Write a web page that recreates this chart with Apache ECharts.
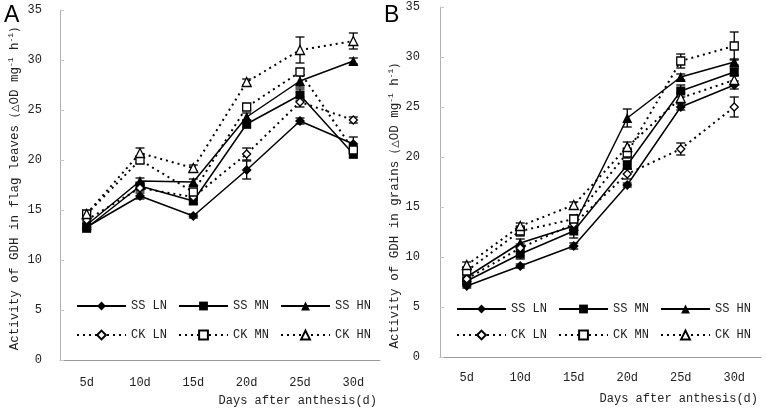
<!DOCTYPE html>
<html>
<head>
<meta charset="utf-8">
<script src="https://cdn.jsdelivr.net/npm/echarts/dist/echarts.min.js"></script>
<style>
html,body{margin:0;padding:0;background:#fff;}
#main{width:766px;height:412px;}
</style>
</head>
<body>
<div id="main"></div>
<script>
// ---------- DATA ----------
const categories = ['5d', '10d', '15d', '20d', '25d', '30d'];
const seriesNames = ['SS LN', 'SS MN', 'SS HN', 'CK LN', 'CK MN', 'CK HN'];
const yMin = 0, yMax = 35, yStep = 5;

// Panel A: flag leaves
const leafSSLN = [13.3, 16.4, 14.4, 19.0, 23.9, 21.6];
const leafSSMN = [13.2, 17.4, 15.9, 23.6, 26.5, 20.6];
const leafSSHN = [13.5, 17.9, 17.8, 24.3, 27.9, 29.9];
const leafCKLN = [14.0, 17.2, 16.3, 20.6, 25.8, 24.0];
const leafCKMN = [14.6, 20.0, 16.8, 25.3, 28.8, 21.0];
const leafCKHN = [14.6, 20.7, 19.2, 27.8, 31.0, 31.9];
const leafErrSSLN = [0.3, 0.3, 0.2, 0.9, 0.3, 0.7];
const leafErrSSMN = [0.4, 0.3, 0.3, 0.4, 0.6, 0.4];
const leafErrSSHN = [0.3, 0.3, 0.3, 0.4, 0.6, 0.3];
const leafErrCKLN = [0.3, 0.3, 0.3, 0.6, 0.5, 0.3];
const leafErrCKMN = [0.3, 0.3, 0.3, 0.3, 0.3, 0.3];
const leafErrCKHN = [0.3, 0.5, 0.3, 0.3, 1.3, 0.8];

// Panel B: grains
const grainSSLN = [7.1, 9.1, 11.1, 17.2, 25.0, 27.2];
const grainSSMN = [7.6, 10.3, 12.6, 19.2, 26.6, 28.5];
const grainSSHN = [8.0, 11.4, 13.1, 23.9, 28.0, 29.5];
const grainCKLN = [7.8, 10.9, 13.3, 18.3, 20.8, 25.0];
const grainCKMN = [8.6, 12.6, 13.8, 20.4, 29.6, 31.1];
const grainCKHN = [9.2, 13.1, 15.2, 21.0, 25.9, 27.7];
const grainErrSSLN = [0.2, 0.2, 0.3, 0.2, 0.3, 0.4];
const grainErrSSMN = [0.3, 0.5, 0.7, 0.4, 0.6, 0.4];
const grainErrSSHN = [0.3, 0.4, 0.4, 0.9, 0.3, 0.3];
const grainErrCKLN = [0.3, 0.4, 0.3, 0.5, 0.6, 1.0];
const grainErrCKMN = [0.3, 0.5, 0.4, 0.5, 0.7, 1.4];
const grainErrCKHN = [0.3, 0.3, 0.3, 0.5, 0.5, 0.5];

const leafValues = [leafSSLN, leafSSMN, leafSSHN, leafCKLN, leafCKMN, leafCKHN];
const leafErrors = [leafErrSSLN, leafErrSSMN, leafErrSSHN, leafErrCKLN, leafErrCKMN, leafErrCKHN];
const grainValues = [grainSSLN, grainSSMN, grainSSHN, grainCKLN, grainCKMN, grainCKHN];
const grainErrors = [grainErrSSLN, grainErrSSMN, grainErrSSHN, grainErrCKLN, grainErrCKMN, grainErrCKHN];

// ---------- STYLE ----------
const MONO = '"Liberation Mono", "DejaVu Sans Mono", monospace';
const styles = [
  { symbol: 'diamond', size: 10, hollow: false },
  { symbol: 'rect', size: 9, hollow: false },
  { symbol: 'triangle', size: 10, hollow: false },
  { symbol: 'diamond', size: 8, hollow: true },
  { symbol: 'rect', size: 8, hollow: true },
  { symbol: 'triangle', size: 9, hollow: true }
];

function makeAxes(idx) {
  return {
    x: {
      type: 'category', gridIndex: idx, data: categories, boundaryGap: true,
      axisLine: { lineStyle: { color: '#9a9a9a', width: 1 } },
      axisTick: { inside: true, length: 5, lineStyle: { color: '#9a9a9a' } },
      axisLabel: { color: '#222', fontFamily: MONO, fontSize: 12, margin: idx === 0 ? 17 : 15 },
      splitLine: { show: false }
    },
    y: {
      type: 'value', gridIndex: idx, min: yMin, max: yMax, interval: yStep,
      axisLine: { show: true, lineStyle: { color: '#b0b0b0', width: 1 } },
      axisTick: { show: true, inside: true, length: 4, lineStyle: { color: '#c8c8c8' } },
      axisLabel: { color: '#222', fontFamily: MONO, fontSize: 12, margin: idx === 0 ? 18 : 20 },
      splitLine: { show: false }
    }
  };
}

const axA = makeAxes(0), axB = makeAxes(1);

function buildSeries(values, errors, axisIdx) {
  const out = [];
  values.forEach((vals, i) => {
    const st = styles[i];
    out.push({
      type: 'custom',
      name: seriesNames[i] + ' err' + axisIdx,
      xAxisIndex: axisIdx, yAxisIndex: axisIdx,
      data: vals.map((v, k) => [k, v, errors[i][k]]),
      encode: { x: 0, y: 1 },
      silent: true,
      z: 3,
      renderItem: function (params, api) {
        const x = api.value(0), v = api.value(1), e = api.value(2);
        const top = api.coord([x, v + e]);
        const bot = api.coord([x, v - e]);
        const hw = 4.5;
        const ls = { stroke: '#000', lineWidth: 1.3 };
        return {
          type: 'group',
          children: [
            { type: 'line', shape: { x1: top[0], y1: top[1], x2: bot[0], y2: bot[1] }, style: ls },
            { type: 'line', shape: { x1: top[0] - hw, y1: top[1], x2: top[0] + hw, y2: top[1] }, style: ls },
            { type: 'line', shape: { x1: bot[0] - hw, y1: bot[1], x2: bot[0] + hw, y2: bot[1] }, style: ls }
          ]
        };
      }
    });
    out.push({
      type: 'line',
      name: seriesNames[i],
      xAxisIndex: axisIdx, yAxisIndex: axisIdx,
      data: vals,
      symbol: st.symbol,
      symbolSize: st.size,
      showAllSymbol: true,
      z: 4,
      lineStyle: st.hollow
        ? { color: '#000', width: 2, type: [2, 4] }
        : { color: '#000', width: 1.5, type: 'solid' },
      itemStyle: st.hollow
        ? { color: '#fff', borderColor: '#000', borderWidth: 1.3 }
        : { color: '#000', borderColor: '#000', borderWidth: 0 },
      emphasis: { disabled: true },
      animation: false
    });
  });
  return out;
}

function legendRow(names, left, top) {
  return {
    data: names, left: left, top: top, orient: 'horizontal',
    padding: 0,
    itemWidth: 49, itemHeight: 11, itemGap: 11,
    selectedMode: false,
    textStyle: { fontFamily: MONO, fontSize: 12, color: '#222' }
  };
}

const subStyle = { fontSize: 8, fontFamily: MONO, verticalAlign: 'top', lineHeight: 16, fill: '#222' };
const mainStyle = { fontSize: 12.5, fontFamily: MONO, lineHeight: 16, fill: '#222' };

const option = {
  animation: false,
  backgroundColor: '#fff',
  grid: [
    { left: 60, top: 10, width: 320, height: 350 },
    { left: 440, top: 7, width: 321, height: 350 }
  ],
  xAxis: [axA.x, axB.x],
  yAxis: [axA.y, axB.y],
  legend: [
    legendRow(['SS LN', 'SS MN', 'SS HN'], 76, 300),
    legendRow(['CK LN', 'CK MN', 'CK HN'], 76, 329),
    legendRow(['SS LN', 'SS MN', 'SS HN'], 456, 303),
    legendRow(['CK LN', 'CK MN', 'CK HN'], 456, 329)
  ],
  graphic: [
    { type: 'text', left: 4, top: 4, style: { text: 'A', font: '23px "Liberation Sans", Arial, sans-serif', fill: '#000' } },
    { type: 'text', left: 384, top: 4, style: { text: 'B', font: '23px "Liberation Sans", Arial, sans-serif', fill: '#000' } },
    {
      type: 'text', x: 15, y: 185, rotation: Math.PI / 2,
      style: {
        text: '{m|Activity of GDH in flag leaves（△OD mg}{s|-1}{m| h}{s|-1}{m|）}',
        align: 'center', verticalAlign: 'middle',
        rich: { m: mainStyle, s: subStyle }
      }
    },
    {
      type: 'text', x: 395, y: 202, rotation: Math.PI / 2,
      style: {
        text: '{m|Activity of GDH in grains（△OD mg}{s|-1}{m| h}{s|-1}{m|）}',
        align: 'center', verticalAlign: 'middle',
        rich: { m: mainStyle, s: subStyle }
      }
    },
    { type: 'text', x: 377, y: 401, style: { text: 'Days after anthesis(d)', align: 'right', verticalAlign: 'middle', font: '12px ' + MONO, fill: '#222' } },
    { type: 'text', x: 758, y: 399, style: { text: 'Days after anthesis(d)', align: 'right', verticalAlign: 'middle', font: '12px ' + MONO, fill: '#222' } }
  ],
  series: buildSeries(leafValues, leafErrors, 0).concat(buildSeries(grainValues, grainErrors, 1))
};

const chart = echarts.init(document.getElementById('main'), null, { renderer: 'canvas' });
chart.setOption(option);
</script>
</body>
</html>
